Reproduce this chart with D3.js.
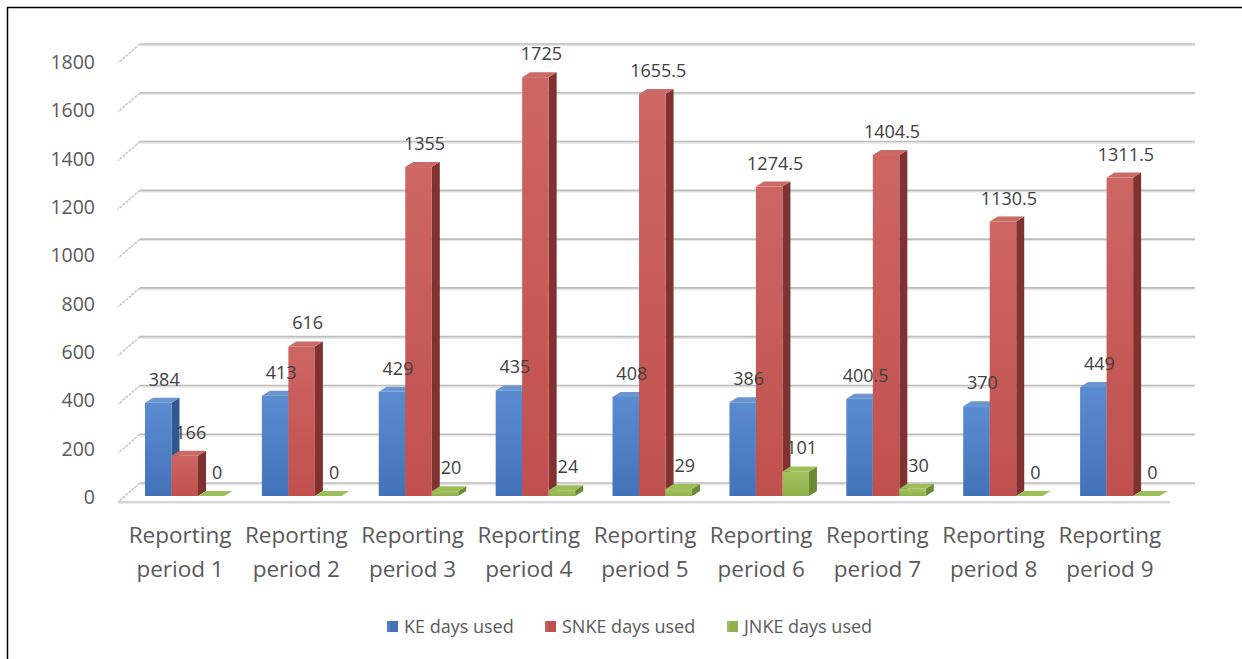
<!DOCTYPE html>
<html>
<head>
<meta charset="utf-8">
<script src="https://cdn.jsdelivr.net/npm/d3@7"></script>
<style>
  body { margin: 0; background: #fff; }
  svg text { font-family: "Open Sans", "Noto Sans", sans-serif; fill: #595959; }
</style>
</head>
<body>
<svg id="chart"></svg>
<script>
// data
let periods = ['Reporting period 1', 'Reporting period 2', 'Reporting period 3',
  'Reporting period 4', 'Reporting period 5', 'Reporting period 6',
  'Reporting period 7', 'Reporting period 8', 'Reporting period 9'];
let keDays = [384, 413, 429, 435, 408, 386, 400.5, 370, 449];
let snkeDays = [166, 616, 1355, 1725, 1655.5, 1274.5, 1404.5, 1130.5, 1311.5];
let jnkeDays = [0, 0, 20, 24, 29, 101, 30, 0, 0];
let seriesNames = ['KE days used', 'SNKE days used', 'JNKE days used'];
let yTicks = [0, 200, 400, 600, 800, 1000, 1200, 1400, 1600, 1800];

// configuration of svg/plot area
let config = { svg: { width: 1242, height: 659 } };

// 3d-ish offsets (pixels)
let depth = { dx: 8, dy: -5 };       // bar depth
let wall = { dx: 22, dy: -19 };      // floor / left wall diagonal

let svg = d3.select('svg#chart')
  .attr('width', config.svg.width)
  .attr('height', config.svg.height);

// colours per series: base, light, side, top
let colors = [
  { base: '#4272b8', light: '#5b8bd0', side: '#30588f', top: '#6a95cf' },
  { base: '#c0504d', light: '#cd6663', side: '#7f3230', top: '#c96a67' },
  { base: '#8fb04c', light: '#a3c45f', side: '#6a8a35', top: '#9dbf59' }
];

let defs = svg.append('defs');
colors.forEach(function(c, i) {
  let g = defs.append('linearGradient')
    .attr('id', 'grad' + i)
    .attr('x1', 0).attr('y1', 0).attr('x2', 0).attr('y2', 1);
  g.append('stop').attr('offset', '0%').attr('stop-color', c.light);
  g.append('stop').attr('offset', '100%').attr('stop-color', c.base);
});

// scales
let scale = {};
scale.x = d3.scaleBand().domain(periods).range([122, 1168]);      // labels plane
scale.xBar = d3.scaleBand().domain(periods).range([120, 1172]);   // bars plane
scale.yBar = d3.scaleLinear().domain([0, 1800]).range([496, 59]);
scale.yWall = d3.scaleLinear().domain([0, 1800]).range([483, 44]);
scale.yLabel = d3.scaleLinear().domain([0, 1800]).range([497, 62]);

// frame (only top and left are visible in the crop)
svg.append('line').attr('x1', 7).attr('y1', 7.5).attr('x2', 1242).attr('y2', 7.5)
  .style('stroke', '#000').style('stroke-width', 1.5);
svg.append('line').attr('x1', 7.5).attr('y1', 7).attr('x2', 7.5).attr('y2', 659)
  .style('stroke', '#000').style('stroke-width', 1.5);

// back wall gridlines + left wall diagonals
let wallX0 = 140, wallX1 = 1195;
let grid = svg.append('g').attr('id', 'grid');
yTicks.forEach(function(t) {
  let y = scale.yWall(t);
  grid.append('line')
    .attr('x1', wallX0).attr('x2', wallX1).attr('y1', y + 1.5).attr('y2', y + 1.5)
    .style('stroke', '#e6e6e6').style('stroke-width', 1.5);
  grid.append('line')
    .attr('x1', wallX0).attr('x2', wallX1).attr('y1', y).attr('y2', y)
    .style('stroke', '#bdbdbd').style('stroke-width', 1.6);
  grid.append('line')
    .attr('x1', wallX0).attr('y1', y)
    .attr('x2', wallX0 - wall.dx).attr('y2', y - wall.dy)
    .style('stroke', '#c8c8c8').style('stroke-width', 1.6)
    .style('stroke-dasharray', '3,1');
});
// floor front edge
grid.append('line')
  .attr('x1', 118).attr('x2', 1170).attr('y1', 502).attr('y2', 502)
  .style('stroke', '#c8c8c8').style('stroke-width', 1.6);
grid.append('line')
  .attr('x1', 118).attr('x2', 1170).attr('y1', 503.5).attr('y2', 503.5)
  .style('stroke', '#ececec').style('stroke-width', 1.2);

// y axis labels
svg.append('g').attr('id', 'y-axis').selectAll('text')
  .data(yTicks)
  .enter()
  .append('text')
  .attr('x', 95)
  .attr('y', d => scale.yLabel(d))
  .attr('dy', '0.36em')
  .style('text-anchor', 'end')
  .style('font-size', '19.5px')
  .text(d => d);

// bars
let series = [keDays, snkeDays, jnkeDays];
let barW = 26.5, barOffset = 25;

let bars = [];
series.forEach(function(values, s) {
  values.forEach(function(v, i) {
    bars.push({ s: s, period: periods[i], value: v });
  });
});

let barG = svg.append('g').attr('id', 'bars');
// draw period by period so later bars overlap earlier ones (left to right)
periods.forEach(function(p) {
  bars.filter(b => b.period === p).forEach(function(b) {
    let x0 = scale.xBar(p) + barOffset + b.s * barW;
    let x1 = x0 + barW;
    let yb = scale.yBar(0);
    let yt = scale.yBar(b.value);
    let c = colors[b.s];
    let g = barG.append('g').attr('class', 'bar');
    // side face
    g.append('polygon')
      .attr('points', [[x1, yt], [x1 + depth.dx, yt + depth.dy], [x1 + depth.dx, yb + depth.dy], [x1, yb]].join(' '))
      .style('fill', c.side);
    // front face
    if (b.value > 0) {
      g.append('rect')
        .attr('x', x0).attr('y', yt)
        .attr('width', barW).attr('height', yb - yt)
        .style('fill', 'url(#grad' + b.s + ')');
    }
    // top face
    g.append('polygon')
      .attr('points', [[x0, yt], [x0 + depth.dx, yt + depth.dy], [x1 + depth.dx, yt + depth.dy], [x1, yt]].join(' '))
      .style('fill', c.top);
  });
});

// data labels
svg.append('g').attr('id', 'labels').selectAll('text')
  .data(bars)
  .enter()
  .append('text')
  .attr('x', d => scale.xBar(d.period) + barOffset + d.s * barW + barW / 2 + 6)
  .attr('y', d => scale.yBar(d.value) - 17)
  .style('text-anchor', 'middle')
  .style('font-size', '18px')
  .style('fill', '#404040')
  .text(d => d.value);

// category labels (two lines)
let cats = svg.append('g').attr('id', 'x-axis').selectAll('text')
  .data(periods)
  .enter()
  .append('text')
  .attr('x', d => scale.x(d) + scale.x.bandwidth() / 2)
  .attr('y', 543)
  .style('text-anchor', 'middle')
  .style('font-size', '22.5px');
cats.append('tspan')
  .attr('x', d => scale.x(d) + scale.x.bandwidth() / 2)
  .text(d => d.split(' ')[0]);
cats.append('tspan')
  .attr('x', d => scale.x(d) + scale.x.bandwidth() / 2)
  .attr('dy', 34)
  .text(d => d.split(' ').slice(1).join(' '));

// legend
let legendX = [387, 545, 727];
let legend = svg.append('g').attr('id', 'legend');
seriesNames.forEach(function(name, i) {
  let item = legend.append('g').attr('transform', translate(legendX[i], 621));
  item.append('rect').attr('x', 0).attr('y', 0).attr('width', 11).attr('height', 11)
    .style('fill', colors[i].base);
  item.append('rect').attr('x', 0).attr('y', 0).attr('width', 3).attr('height', 11)
    .style('fill', colors[i].light).style('opacity', 0.6);
  item.append('text').attr('x', 17).attr('y', 11.5)
    .style('font-size', '18px')
    .text(name);
});

// helper method to make translating easier
function translate(x, y) {
  return 'translate(' + x + ',' + y + ')';
}
</script>
</body>
</html>
